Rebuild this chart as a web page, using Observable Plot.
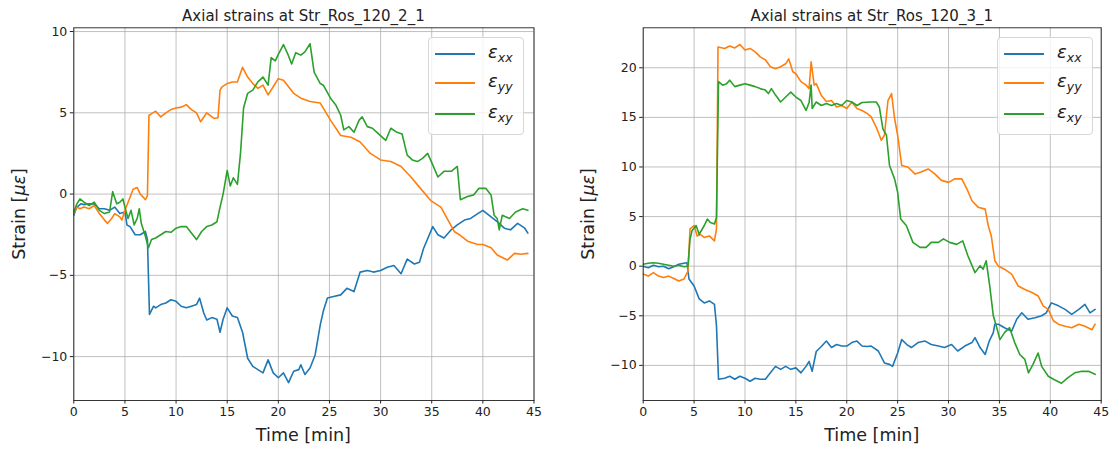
<!DOCTYPE html>
<html>
<head>
<meta charset="utf-8">
<script src="https://cdn.jsdelivr.net/npm/d3@7"></script>
<script src="https://cdn.jsdelivr.net/npm/@observablehq/plot@0.6"></script>
<style>
  html, body { margin: 0; padding: 0; background: #fff; }
  body { font-family: "DejaVu Sans", sans-serif; color: #222; }
  #wrap { position: relative; width: 1112px; height: 450px; overflow: hidden; background: #fff; }
  .panel { position: absolute; top: 0; }
  .title { position: absolute; top: 7px; font-size: 15px; line-height: 18px; transform: translateX(-50%); white-space: nowrap; }
  .xlabel { position: absolute; top: 424px; font-size: 17.5px; line-height: 22px; transform: translateX(-50%); white-space: nowrap; }
  .ylabel { position: absolute; font-size: 17.5px; line-height: 22px; transform: translate(-50%, -50%) rotate(-90deg); white-space: nowrap; }
  .legend { position: absolute; background: rgba(255,255,255,0.8); border: 1px solid #d6d6d6; border-radius: 4px; box-sizing: border-box; }
  .legend .sw { position: absolute; height: 2px; }
  .legend .lt { position: absolute; font-size: 18px; line-height: 20px; font-style: italic; white-space: nowrap; color: #222; }
  .legend .lt sub { font-size: 12.5px; vertical-align: baseline; position: relative; top: 4px; }
</style>
</head>
<body>
<div id="wrap"></div>
<script>
// ---------------- Data (time [min], strain [µε]) ----------------
const titles = ["Axial strains at Str_Ros_120_2_1", "Axial strains at Str_Ros_120_3_1"];
const seriesKeys = ["xx", "yy", "xy"];
const seriesColors = ["#1f77b4", "#ff7f0e", "#2ca02c"];
const xTicks = [0, 5, 10, 15, 20, 25, 30, 35, 40, 45];
const yTicksLeft = [-10, -5, 0, 5, 10];
const yTicksRight = [-10, -5, 0, 5, 10, 15, 20];

// Panel 1: Str_Ros_120_2_1
const left_xx = [[0,-1.3],[0.3,-0.8],[0.7,-0.6],[1,-0.65],[1.5,-0.6],[2,-0.6],[2.5,-0.9],[3,-0.9],[3.5,-1.0],[4,-0.8],[4.5,-1.2],[5,-1.1],[5.2,-1.9],[5.5,-2.0],[6,-2.5],[6.5,-2.5],[7,-2.3],[7.2,-2.8],[7.4,-7.4],[7.8,-6.9],[8,-7.0],[8.5,-6.8],[9,-6.7],[9.5,-6.5],[10,-6.6],[10.5,-6.9],[11,-7.0],[11.5,-6.9],[12,-6.8],[12.3,-6.4],[12.7,-7.3],[13,-7.75],[13.5,-7.6],[14,-7.7],[14.3,-8.5],[14.6,-7.7],[15,-7.0],[15.5,-7.5],[16,-7.6],[16.5,-8.5],[17,-10.1],[17.5,-10.6],[18,-10.8],[18.5,-11.0],[19,-10.2],[19.5,-11.0],[20,-11.3],[20.5,-11.0],[21,-11.6],[21.5,-10.9],[22,-10.8],[22.2,-10.5],[22.6,-11.1],[23.1,-10.7],[23.6,-9.9],[24.1,-8.05],[24.4,-7.2],[24.8,-6.4],[25.4,-6.3],[26.1,-6.2],[26.7,-5.8],[27.4,-6.0],[28,-4.8],[28.7,-4.7],[29.3,-4.8],[30,-4.7],[30.65,-4.5],[31.3,-4.4],[32,-4.9],[32.6,-4.0],[33.3,-4.3],[33.8,-4.2],[34.2,-3.35],[35.1,-2.0],[35.6,-2.5],[36.2,-2.7],[36.9,-2.2],[37.5,-1.9],[38.2,-1.6],[38.8,-1.5],[39.5,-1.2],[40,-1.0],[40.8,-1.4],[41.4,-1.7],[42.1,-2.1],[42.7,-2.2],[43.4,-1.8],[44.1,-2.1],[44.4,-2.4]];
const left_yy = [[0,-1.2],[0.3,-0.8],[0.6,-0.9],[1,-0.8],[1.5,-0.9],[2,-0.7],[2.5,-1.2],[3,-1.6],[3.3,-1.8],[3.7,-1.5],[4,-1.2],[4.5,-1.4],[4.7,-1.6],[5,-1.0],[5.5,-0.2],[5.8,0.3],[6.2,0.4],[6.5,0.0],[6.8,-0.2],[7,-0.35],[7.2,-0.1],[7.35,4.85],[7.5,4.9],[8,5.1],[8.5,4.75],[9,5.0],[9.5,5.2],[10,5.3],[10.5,5.35],[11,5.5],[11.5,5.2],[12,5.0],[12.4,4.45],[13,5.0],[13.7,4.65],[14.1,4.7],[14.3,6.4],[14.5,6.6],[15,6.8],[15.5,6.9],[16,6.9],[16.5,7.8],[17,7.2],[17.5,6.8],[18,6.5],[18.5,6.7],[19,6.1],[19.5,6.6],[20,7.1],[20.5,7.0],[21,6.6],[21.5,6.2],[22.2,5.9],[23.1,5.7],[24.1,5.6],[25.1,4.55],[26.1,3.6],[27.1,3.5],[28,3.2],[29,2.5],[30,2.1],[31,2.0],[32,1.7],[32.9,1.1],[33.9,0.35],[34.9,-0.4],[35.9,-0.8],[36.5,-1.5],[37.2,-2.3],[37.7,-2.5],[38.5,-2.9],[39.5,-3.1],[40,-3.1],[40.8,-3.3],[41.4,-3.75],[42.4,-4.05],[43.1,-3.65],[43.7,-3.7],[44.4,-3.65]];
const left_xy = [[0,-1.1],[0.3,-0.6],[0.6,-0.3],[1,-0.5],[1.5,-0.7],[2,-0.5],[2.5,-1.0],[3,-1.2],[3.5,-1.1],[3.8,0.15],[4.2,-0.6],[4.5,-0.5],[4.8,-0.3],[5,-0.8],[5.3,-1.5],[5.6,-1.0],[5.9,-1.9],[6.2,-1.5],[6.4,-0.9],[6.6,-1.8],[7,-2.6],[7.3,-3.3],[7.6,-2.8],[8,-2.7],[8.5,-2.5],[9,-2.3],[9.5,-2.35],[10,-2.1],[10.5,-2.0],[11,-2.0],[11.5,-2.4],[12,-2.8],[12.5,-2.3],[13,-2.0],[13.5,-1.9],[14,-1.7],[14.3,-0.8],[14.6,0.0],[15,1.45],[15.3,0.5],[15.6,1.0],[16,0.6],[16.3,2.5],[16.6,5.3],[17,6.2],[17.5,6.4],[18,6.9],[18.5,7.2],[19,6.7],[19.3,8.4],[19.7,8.2],[20,8.6],[20.5,9.2],[21,8.5],[21.3,8.0],[21.7,8.7],[22.2,8.55],[22.6,8.75],[23.1,9.25],[23.5,7.5],[24.1,6.8],[24.4,6.7],[25.1,5.9],[25.6,5.5],[26.1,4.85],[26.4,3.95],[26.9,4.15],[27.4,3.8],[27.9,4.55],[28.2,4.75],[28.7,4.15],[29.2,4.05],[29.8,3.7],[30.5,3.3],[31,4.05],[31.6,3.8],[32.1,3.7],[32.6,2.4],[33.1,2.1],[33.6,2.0],[34.1,2.2],[34.6,2.5],[35.1,1.8],[35.6,1.05],[36.2,1.4],[36.9,1.4],[37.5,1.7],[37.8,-0.35],[38.5,-0.15],[39.1,-0.05],[39.6,0.35],[40.3,0.35],[40.8,-0.05],[41.1,-1.3],[41.4,-1.5],[41.6,-2.2],[41.9,-1.3],[42.6,-1.5],[43.2,-1.1],[43.9,-0.9],[44.4,-1.0]];

// Panel 2: Str_Ros_120_3_1
const right_xx = [[0,0],[0.5,-0.15],[1,0.1],[1.5,-0.05],[2,0],[2.5,-0.25],[3,-0.05],[3.5,0.2],[4,0.3],[4.3,0.35],[4.5,-1.3],[5,-2.0],[5.5,-3.3],[6,-3.7],[6.5,-3.5],[7,-3.85],[7.2,-6.0],[7.4,-11.4],[8,-11.3],[8.5,-11.1],[9,-11.4],[9.5,-11.1],[10,-11.3],[10.5,-11.6],[11,-11.3],[11.5,-11.4],[12,-11.4],[12.5,-10.75],[13,-10.1],[13.5,-10.4],[14,-10.1],[14.5,-10.4],[15,-10.25],[15.5,-10.75],[16,-10.1],[16.3,-9.6],[16.6,-10.6],[17,-8.6],[17.5,-8.1],[18,-7.55],[18.5,-8.2],[19,-7.9],[19.5,-8.05],[20,-8.05],[20.5,-7.7],[21,-7.55],[21.5,-8.05],[22,-8.1],[22.4,-8.05],[23.1,-8.55],[23.7,-9.75],[24.2,-9.9],[24.5,-10.1],[25,-8.75],[25.4,-7.4],[25.9,-7.9],[26.35,-8.2],[27,-7.7],[27.7,-7.55],[28.3,-7.9],[29,-8.05],[29.6,-8.2],[30.3,-7.9],[30.9,-8.55],[31.6,-8.05],[32.3,-7.7],[32.6,-7.2],[33.1,-8.2],[33.6,-8.9],[34,-7.55],[34.4,-6.7],[34.55,-5.85],[34.9,-5.85],[35.5,-6.2],[36.2,-6.55],[36.7,-5.35],[37.2,-4.7],[37.8,-5.35],[38.5,-5.2],[39.15,-5.0],[39.6,-4.7],[40.1,-3.7],[40.8,-4.0],[41.45,-4.35],[42.1,-4.85],[42.8,-4.35],[43.4,-3.85],[43.9,-4.7],[44.4,-4.35]];
const right_yy = [[0,-0.8],[0.5,-1.0],[1,-0.65],[1.5,-1.0],[2,-1.15],[2.5,-1.0],[3,-1.25],[3.5,-1.5],[4,-1.3],[4.4,-0.5],[4.6,3.75],[5,4.1],[5.3,3.05],[5.6,3.2],[6,2.9],[6.5,3.05],[7,2.55],[7.2,3.75],[7.35,22.1],[8,21.95],[8.5,22.2],[9,22.0],[9.5,22.35],[10,21.8],[10.5,21.95],[11,21.6],[11.5,21.1],[12,20.8],[12.5,20.1],[13,19.9],[13.5,20.1],[14,20.4],[14.3,20.9],[14.7,19.6],[15,19.4],[15.5,18.6],[16,18.25],[16.3,17.9],[16.5,20.6],[16.8,18.25],[17,18.4],[17.5,17.2],[18,16.6],[18.5,16.7],[19,16.05],[19.5,16.2],[20,15.9],[20.5,16.55],[21,15.9],[21.5,15.7],[22,15.4],[22.4,15.05],[22.9,14.0],[23.4,12.7],[23.7,13.2],[24.05,16.7],[24.4,17.4],[24.7,14.9],[25,13.2],[25.4,10.15],[26,10.0],[26.7,9.3],[27.3,9.5],[28,9.8],[28.65,9.3],[29.3,8.65],[30,8.45],[30.6,8.8],[31.3,8.8],[31.8,7.8],[32.3,6.6],[32.9,5.95],[33.6,5.75],[33.9,4.1],[34.2,3.05],[34.55,0.55],[34.9,0.0],[35.5,-0.3],[36.2,-0.8],[36.85,-2.0],[37.5,-2.35],[38.2,-2.65],[38.8,-3.0],[39.3,-4.0],[39.8,-4.35],[40.3,-5.5],[40.8,-5.85],[41.45,-6.05],[42.1,-6.2],[42.8,-5.85],[43.4,-6.05],[44.1,-6.4],[44.4,-5.85]];
const right_xy = [[0,0.2],[0.5,0.3],[1,0.35],[1.5,0.3],[2,0.2],[2.5,0.1],[3,0.0],[3.5,0.1],[4,-0.05],[4.4,0.0],[4.6,2.7],[4.8,3.6],[5.2,4.1],[5.5,3.2],[6,4.1],[6.3,4.75],[6.6,4.4],[7,4.25],[7.2,4.9],[7.4,18.6],[7.8,18.25],[8.2,18.4],[8.5,18.75],[9,18.1],[9.5,18.25],[10,18.4],[10.5,18.25],[11,18.1],[11.5,17.9],[12,17.75],[12.3,17.4],[12.6,17.9],[13,17.25],[13.5,16.55],[14,17.05],[14.5,17.55],[15,17.05],[15.5,16.7],[16,15.7],[16.3,16.5],[16.5,18.25],[16.6,15.9],[17,16.55],[17.5,16.2],[18,16.4],[18.5,16.2],[19,16.4],[19.5,16.2],[20,16.7],[20.5,16.55],[21,16.2],[21.5,16.5],[22.4,16.55],[22.9,16.55],[23.2,16.05],[23.55,13.85],[23.9,13.2],[24.2,10.15],[24.7,8.8],[25,7.45],[25.3,4.75],[25.85,4.1],[26.5,2.4],[27.2,1.9],[27.8,1.9],[28.3,2.4],[29,2.4],[29.5,2.75],[30.1,2.4],[30.8,2.2],[31.4,2.55],[31.9,1.05],[32.6,-0.65],[33.1,0.05],[33.4,-0.3],[33.7,0.55],[34.05,-2.0],[34.4,-5.0],[34.7,-6.05],[35.05,-7.4],[35.5,-6.7],[36,-6.2],[36.5,-7.7],[37,-8.9],[37.5,-9.4],[37.85,-10.75],[38.3,-9.9],[38.8,-8.75],[39.15,-10.1],[39.8,-11.1],[40.4,-11.45],[41.1,-11.8],[41.7,-11.25],[42.4,-10.75],[43.1,-10.6],[43.75,-10.6],[44.4,-10.9]];

// ---------------- Drawing ----------------
const fmt = d => d < 0 ? "\u2212" + Math.abs(d) : String(d);
const wrap = document.getElementById("wrap");

const panels = [
  { left: 0,   width: 556, mL: 73.3, mR: 22.5, yDomain: [-12.7, 10.23], yTicks: yTicksLeft,  series: [left_xx, left_yy, left_xy],
    ylabX: 19, legend: { x: 428, y: 37 } },
  { left: 556, width: 556, mL: 86.7, mR: 11.3, yDomain: [-13.54, 24.03], yTicks: yTicksRight, series: [right_xx, right_yy, right_xy],
    ylabX: 588, legend: { x: 997, y: 37 } }
];

panels.forEach((p, i) => {
  const marks = [
    Plot.gridX(xTicks, { stroke: "#b0b0b0", strokeOpacity: 1, strokeWidth: 0.8 }),
    Plot.gridY(p.yTicks, { stroke: "#b0b0b0", strokeOpacity: 1, strokeWidth: 0.8 }),
    ...p.series.map((s, k) => Plot.line(s, { x: d => d[0], y: d => d[1], stroke: seriesColors[k], strokeWidth: 1.6, clip: true })),
    Plot.frame({ stroke: "#222", strokeWidth: 0.9 }),
    Plot.axisX(xTicks, { tickSize: 3.5, tickPadding: 3, fontSize: 12.5, label: null, tickFormat: fmt }),
    Plot.axisY(p.yTicks, { tickSize: 3.5, tickPadding: 3, fontSize: 12.5, label: null, tickFormat: fmt })
  ];
  const chart = Plot.plot({
    width: p.width, height: 450,
    marginLeft: p.mL, marginRight: p.mR, marginTop: 27.3, marginBottom: 50,
    x: { domain: [0, 45] },
    y: { domain: p.yDomain },
    style: { fontFamily: "DejaVu Sans, sans-serif", color: "#222", background: "transparent", fontSize: "12.5px" },
    marks
  });
  chart.classList.add("panel");
  chart.style.left = p.left + "px";
  wrap.appendChild(chart);

  const plotLeft = p.left + p.mL, plotRight = p.left + p.width - p.mR;
  const cx = (plotLeft + plotRight) / 2;

  const t = document.createElement("div");
  t.className = "title"; t.textContent = titles[i]; t.style.left = cx + "px";
  wrap.appendChild(t);

  const xl = document.createElement("div");
  xl.className = "xlabel"; xl.textContent = "Time [min]"; xl.style.left = cx + "px";
  wrap.appendChild(xl);

  const yl = document.createElement("div");
  yl.className = "ylabel"; yl.innerHTML = "Strain [<i>\u03bc\u03b5</i>]";
  yl.style.left = p.ylabX + "px"; yl.style.top = "214px";
  wrap.appendChild(yl);

  const lg = document.createElement("div");
  lg.className = "legend";
  lg.style.left = p.legend.x + "px"; lg.style.top = p.legend.y + "px";
  lg.style.width = "96px"; lg.style.height = "98px";
  const rowY = [15.5, 44.5, 76];
  seriesKeys.forEach((key, k) => {
    const sw = document.createElement("div");
    sw.className = "sw";
    sw.style.background = seriesColors[k];
    sw.style.left = "6px"; sw.style.width = "40px"; sw.style.top = (rowY[k] - 1) + "px";
    lg.appendChild(sw);
    const lt = document.createElement("div");
    lt.className = "lt";
    lt.innerHTML = "\u03b5<sub>" + key + "</sub>";
    lt.style.left = "59px"; lt.style.top = (rowY[k] - 12) + "px";
    lg.appendChild(lt);
  });
  wrap.appendChild(lg);
});
</script>
</body>
</html>
